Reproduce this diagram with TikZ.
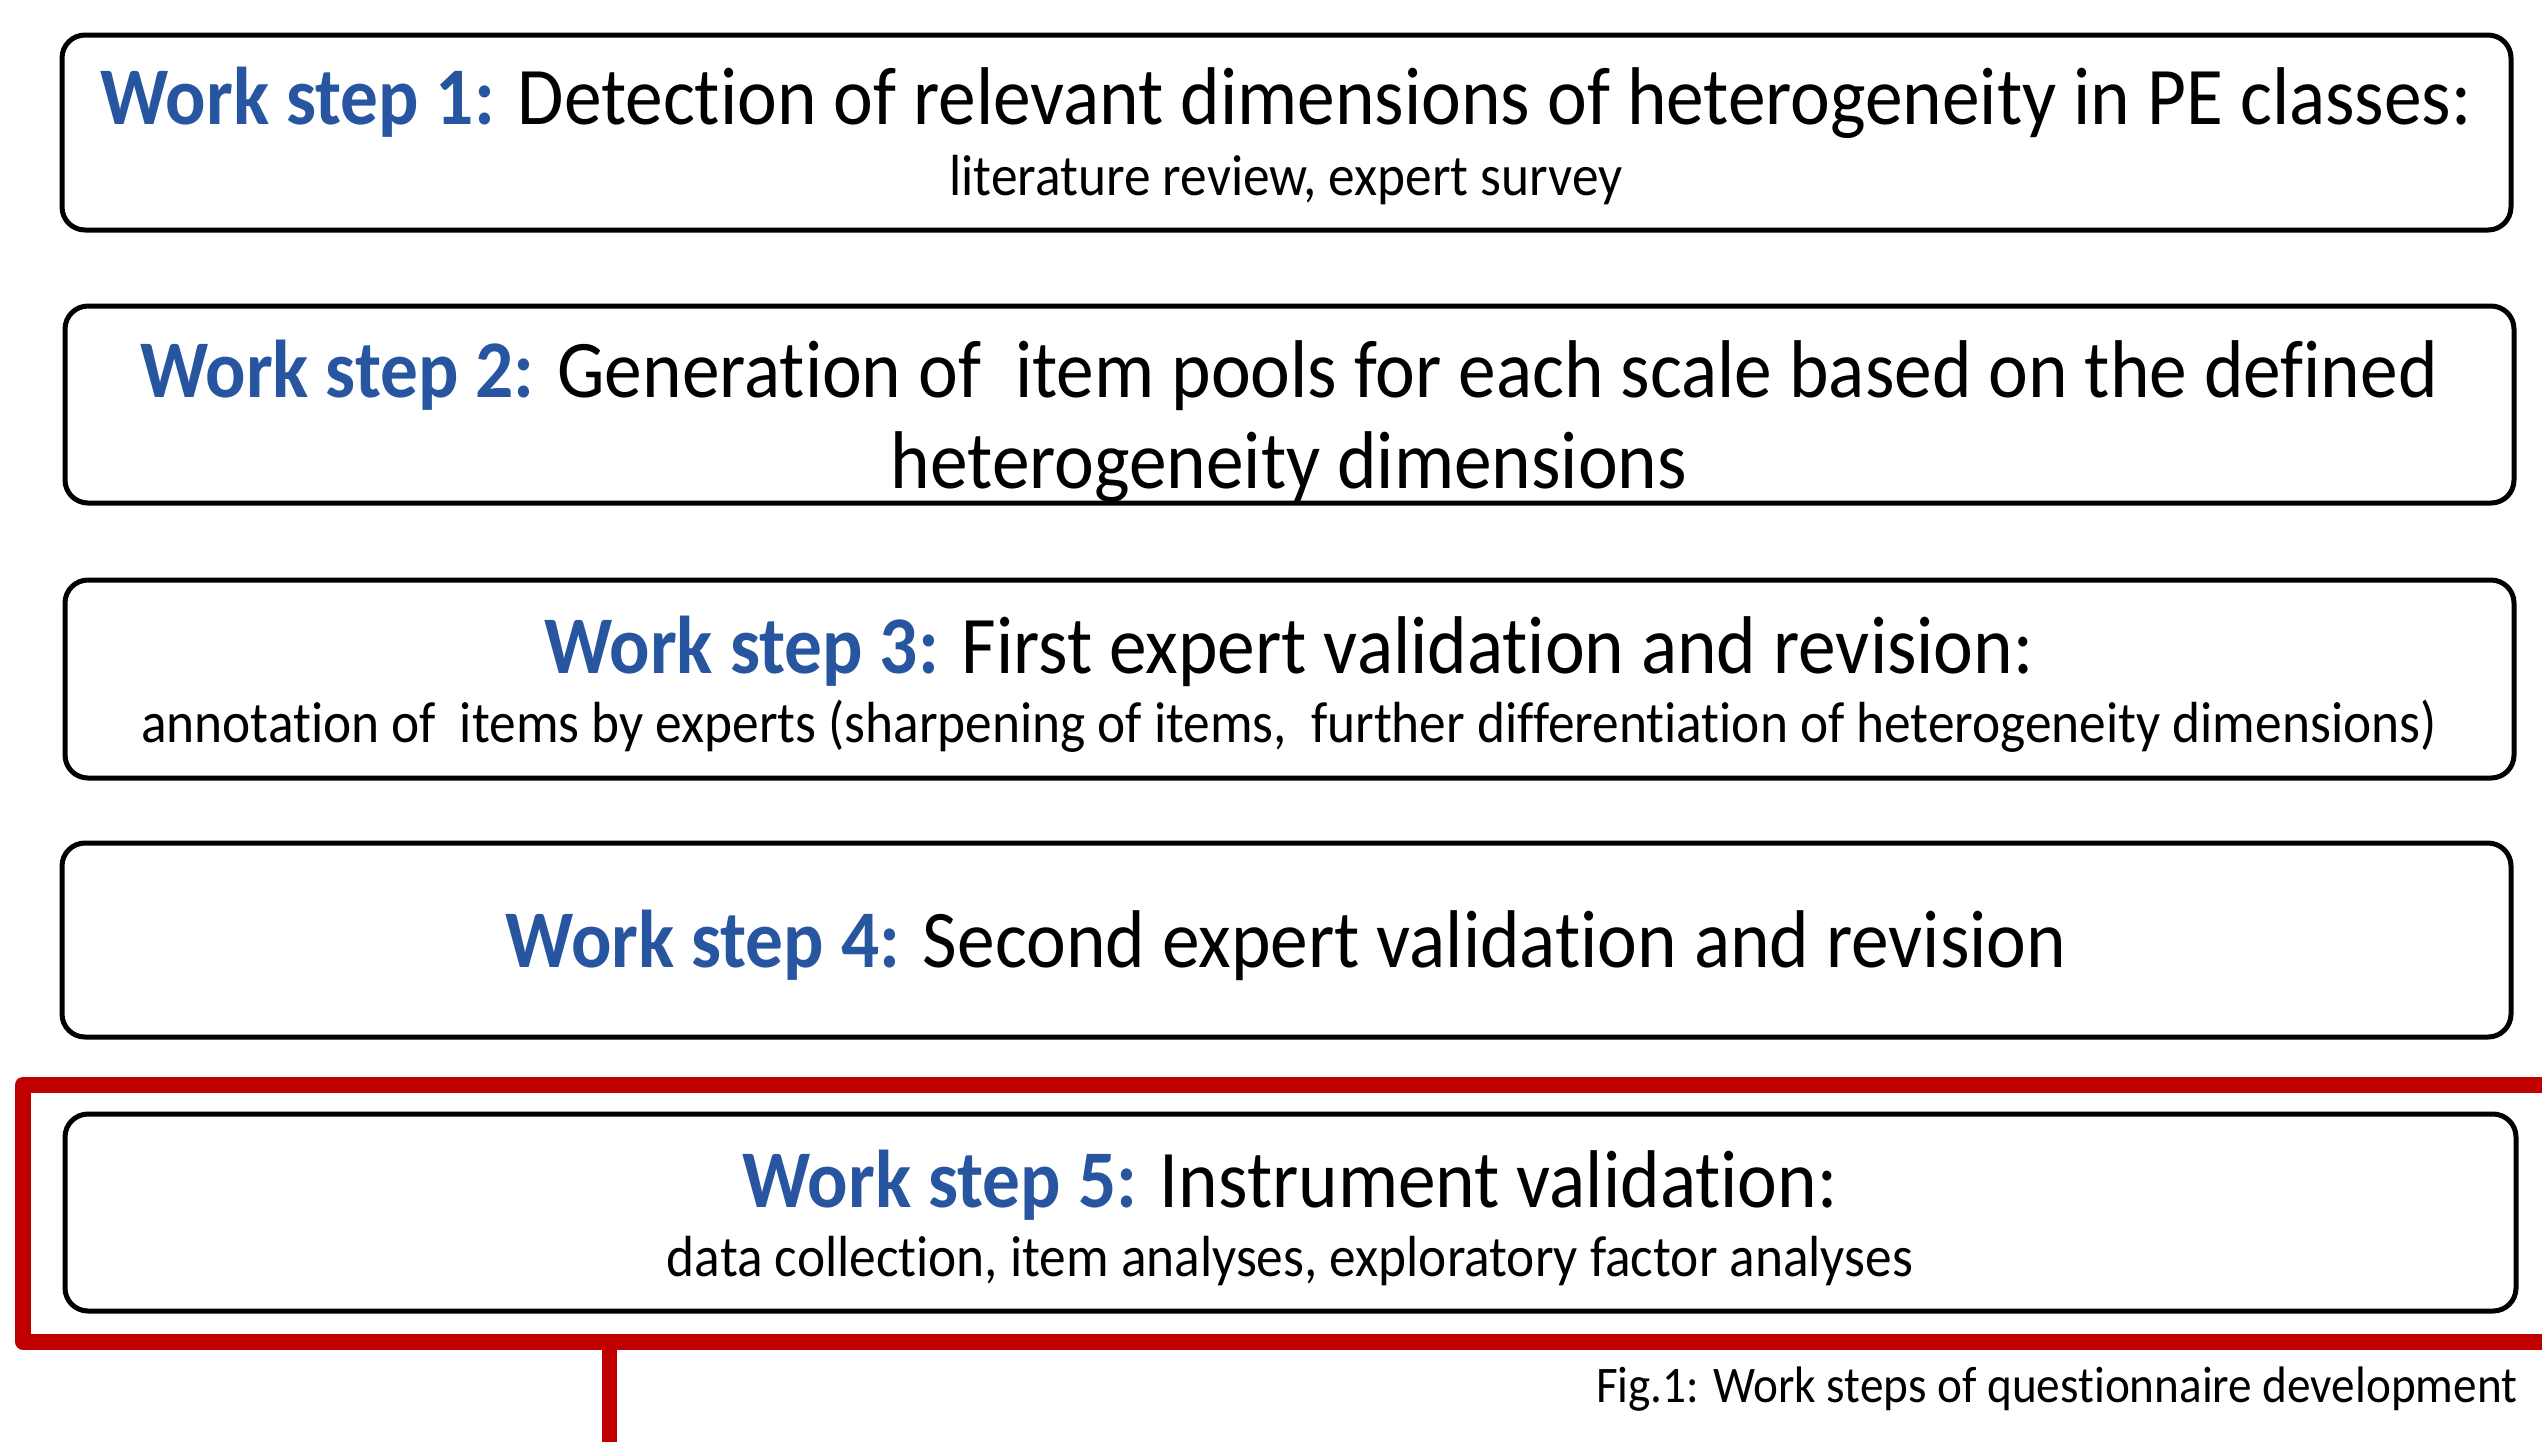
\documentclass[tikz,border=0pt]{standalone}
\usepackage{fontspec}
\setmainfont{Carlito}[FakeStretch=0.92, Ligatures={NoCommon}]
\definecolor{wsblue}{RGB}{40,85,160}
\definecolor{wsred}{RGB}{192,0,0}
\tikzset{
  stepbox/.style={draw=black, line width=0.5mm, rounded corners=2.3mm, fill=white, inner sep=0pt},
  titletext/.style={inner sep=0pt, anchor=center, font=\fontsize{23.3pt}{26pt}\selectfont, align=center},
  subtext/.style={inner sep=0pt, anchor=center, font=\fontsize{16.5pt}{20pt}\selectfont},
  redframe/.style={draw=wsred, line width=1.6mm, line join=round},
}
\newcommand{\ws}[1]{{\bfseries\color{wsblue}Work step #1:}}
\begin{document}
\begin{tikzpicture}[x=0.1mm, y=-0.1mm]
  \useasboundingbox (0,0) rectangle (2542,1441);
  \clip (0,0) rectangle (2542,1441);

  % step boxes
  \node[stepbox, minimum width=244.9mm, minimum height=19.5mm] (b1) at (1286.5,132.5) {};
  \node[stepbox, minimum width=244.9mm, minimum height=19.7mm] (b2) at (1289.5,404.5) {};
  \node[stepbox, minimum width=244.9mm, minimum height=19.8mm] (b3) at (1289.5,679) {};
  \node[stepbox, minimum width=244.9mm, minimum height=19.4mm] (b4) at (1286.5,940) {};
  \node[stepbox, minimum width=245.1mm, minimum height=19.7mm] (b5) at (1290.5,1212.5) {};

  % box texts
  \node[titletext] (t1) at (1286,103) {\ws{1} Detection of relevant dimensions of heterogeneity in PE classes:};
  \node[subtext] (s1) at (1286,180) {literature review, expert survey};
  \node[titletext] (t2) at (1289,421) {\ws{2} Generation of~ item pools for each scale based on the defined\\heterogeneity dimensions};
  \node[titletext] (t3) at (1289,651) {\ws{3} First expert validation and revision:};
  \node[subtext] (s3) at (1289,726) {annotation of~ items by experts (sharpening of items,~ further differentiation of heterogeneity dimensions)};
  \node[titletext] (t4) at (1286,945) {\ws{4} Second expert validation and revision};
  \node[titletext] (t5) at (1290,1185) {\ws{5} Instrument validation:};
  \node[subtext] (s5) at (1290,1261) {data collection, item analyses, exploratory factor analyses};

  % red highlight frame around step 5, open to the right
  \coordinate (frTR) at (2600,1085);
  \coordinate (frTL) at (23,1085);
  \coordinate (frBL) at (23,1341.5);
  \coordinate (frBR) at (2600,1341.5);
  \draw[redframe] (frTR) -- (frTL) -- (frBL) -- (frBR);
  \coordinate (stemTop) at (609.5,1341.5);
  \coordinate (stemEnd) at (609.5,1460);
  \draw[draw=wsred, line width=1.55mm] (stemTop) -- (stemEnd);

  % caption
  \node[inner sep=0pt, anchor=east, font=\fontsize{14.6pt}{18pt}\selectfont] (cap) at (2518,1389) {Fig.1: Work steps of questionnaire development};
\end{tikzpicture}
\end{document}
